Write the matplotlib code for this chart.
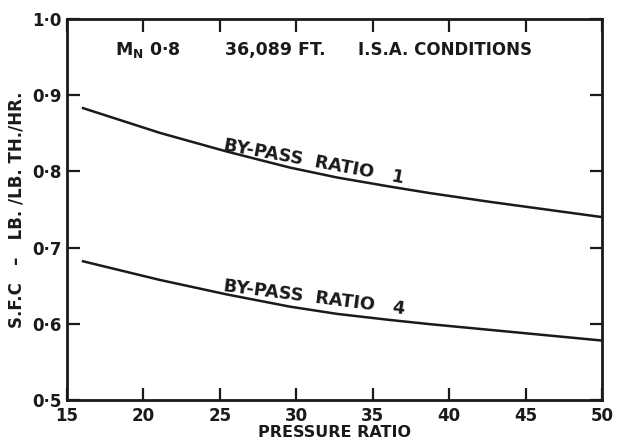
import matplotlib
matplotlib.use('Agg')
import matplotlib.pyplot as plt

# pressure ratio vs s.f.c.
pr_1 = [16.05, 21.08, 25.46, 29.58, 32.66, 36.13, 38.74, 42.67, 50.0]
sfc_1 = [0.883, 0.8505, 0.826, 0.805, 0.792, 0.780, 0.7715, 0.760, 0.740]

pr_4 = [16.05, 21.08, 25.46, 29.58, 32.66, 36.13, 38.74, 42.67, 50.0]
sfc_4 = [0.682, 0.6575, 0.6385, 0.6225, 0.613, 0.605, 0.5995, 0.592, 0.578]

x_ticks = [15, 20, 25, 30, 35, 40, 45, 50]
y_ticks = [0.5, 0.6, 0.7, 0.8, 0.9, 1.0]
y_labels = ['0·5', '0·6', '0·7', '0·8', '0·9', '1·0']

ink = '#1a1a1a'
plt.rcParams['font.family'] = ['DejaVu Sans']
plt.rcParams['font.weight'] = 'bold'
plt.rcParams['axes.labelweight'] = 'bold'
plt.rcParams['mathtext.default'] = 'regular'

fig = plt.figure(figsize=(6.17, 4.41), dpi=100)
ax = fig.add_axes([0.1086, 0.093, 0.8671, 0.864])

ax.plot(pr_1, sfc_1, color=ink, lw=1.8)
ax.plot(pr_4, sfc_4, color=ink, lw=1.8)

ax.set_xlim(15, 50)
ax.set_ylim(0.5, 1.0)
ax.set_xticks(x_ticks)
ax.set_yticks(y_ticks)
ax.set_yticklabels(y_labels)

for s in ax.spines.values():
    s.set_linewidth(2.0)
    s.set_color(ink)
ax.tick_params(direction='in', length=9, width=1.6, top=True, right=True,
               labelsize=12, colors=ink, pad=4)
ax.tick_params(axis='x', pad=5)

ax.set_xlabel('PRESSURE RATIO', fontsize=11.5, labelpad=0, color=ink)
ax.set_ylabel('S.F.C   –   LB. /LB. TH./HR.', fontsize=12, labelpad=5, color=ink)

# header line
ax.text(18.14, 0.959, r'M$_{\bf N}$ 0·8', fontsize=12.5, va='center', ha='left', color=ink)
ax.text(25.33, 0.959, '36,089 FT.', fontsize=12.5, va='center', ha='left', color=ink)
ax.text(34.03, 0.959, 'I.S.A. CONDITIONS', fontsize=12, va='center', ha='left', color=ink)

# curve labels
ax.text(25.2, 0.8275, 'BY-PASS  RATIO   1', fontsize=12.8, rotation=-10.5,
        rotation_mode='anchor', ha='left', va='baseline', color=ink)
ax.text(25.2, 0.6430, 'BY-PASS  RATIO   4', fontsize=12.8, rotation=-7.3,
        rotation_mode='anchor', ha='left', va='baseline', color=ink)

fig.savefig('out.png', dpi=100)
